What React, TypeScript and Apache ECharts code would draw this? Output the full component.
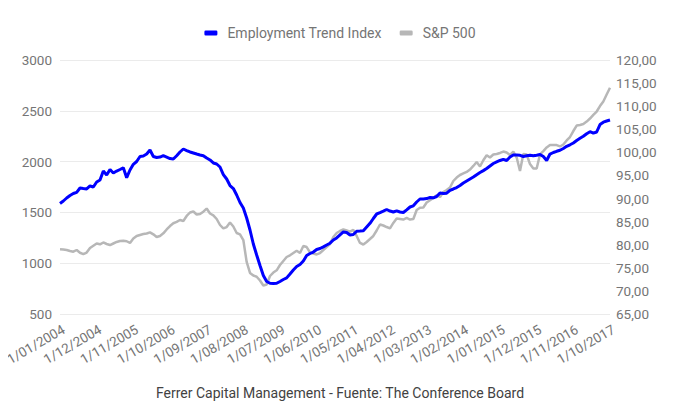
import React, { useEffect, useRef } from "react";
import * as echarts from "echarts";

const startYear = 2004;
const monthCount = 166;
const categories: string[] = [];
for (let i = 0; i < monthCount; i++) {
  const m = (i % 12) + 1;
  const y = startYear + Math.floor(i / 12);
  categories.push(`1/${m < 10 ? "0" + m : m}/${y}`);
}

const employmentTrendIndex = [
  88.93, 89.47, 90.12, 90.66, 91.09, 91.35, 92.28, 92.17, 92.07, 92.72,
  92.5, 93.58, 94.01, 95.96, 95.1, 96.29, 95.53, 95.96, 96.29, 96.68,
  94.51, 96.18, 97.41, 98.02, 99.1, 99.21, 99.64, 100.51, 99.1, 98.89,
  98.99, 99.28, 98.99, 98.67, 98.56, 99.28, 100.08, 100.73, 100.4, 100.08,
  99.86, 99.64, 99.43, 99.28, 98.78, 98.35, 97.7, 97.48, 96.83, 95.2,
  94.23, 92.82, 92.17, 90.77, 89.14, 87.95, 85.79, 83.19, 80.16, 77.77,
  75.5, 73.34, 72.04, 71.65, 71.6, 71.65, 72.04, 72.47, 72.82, 73.66,
  74.53, 75.28, 75.72, 76.48, 77.67, 78.1, 78.42, 78.97, 79.18, 79.55,
  79.94, 80.33, 81.02, 81.46, 82.11, 82.76, 82.65, 82.11, 82.21, 82.93,
  82.97, 83.04, 83.84, 84.64, 85.68, 86.65, 86.93, 87.26, 87.63, 87.3,
  87.08, 87.34, 87.08, 86.98, 87.56, 88.17, 88.43, 89.25, 89.9, 89.9,
  89.99, 90.22, 90.16, 90.44, 91.2, 91.09, 91.16, 91.78, 92.07, 92.39,
  92.82, 93.36, 93.8, 94.23, 94.66, 95.16, 95.64, 96.05, 96.5, 97.05,
  97.59, 97.93, 98.24, 98.5, 98.24, 98.99, 99.43, 99.43, 99.36, 99.1,
  99.25, 99.38, 99.25, 99.38, 99.54, 99.1, 98.24, 99.64, 99.97, 100.23,
  100.45, 100.83, 101.31, 101.64, 102.03, 102.57, 103.04, 103.48, 104.04, 104.47,
  104.15, 104.41, 106.03, 106.53, 106.79, 107.01,
];

const sp500 = [
  1137, 1135, 1130, 1120, 1113, 1130, 1103, 1090, 1105, 1150,
  1172, 1194, 1186, 1204, 1189, 1179, 1194, 1209, 1218, 1220,
  1216, 1199, 1243, 1268, 1278, 1287, 1292, 1304, 1284, 1258,
  1268, 1294, 1332, 1366, 1393, 1406, 1425, 1415, 1465, 1499,
  1509, 1479, 1484, 1507, 1538, 1489, 1471, 1435, 1376, 1342,
  1356, 1401, 1361, 1297, 1284, 1228, 1012, 904, 879, 867,
  830, 780, 790, 874, 908, 930, 982, 1022, 1061, 1078,
  1100, 1122, 1100, 1169, 1159, 1107, 1095, 1086, 1100, 1130,
  1159, 1189, 1258, 1297, 1317, 1332, 1322, 1310, 1327, 1268,
  1199, 1184, 1209, 1238, 1268, 1322, 1381, 1371, 1356, 1343,
  1396, 1440, 1435, 1430, 1445, 1430, 1435, 1524, 1546, 1548,
  1597, 1620, 1642, 1668, 1652, 1701, 1720, 1745, 1809, 1843,
  1868, 1883, 1898, 1922, 1957, 1996, 1952, 2013, 2063, 2040,
  2070, 2075, 2085, 2099, 2090, 2065, 2099, 2040, 1907, 2075,
  2070, 1976, 1932, 1932, 2070, 2104, 2139, 2163, 2163, 2163,
  2149, 2168, 2208, 2242, 2301, 2355, 2360, 2370, 2394, 2424,
  2459, 2493, 2547, 2592, 2660, 2727,
];

const leftTicks = { min: 500, max: 3000, interval: 500 };
const rightTicks = { min: 65, max: 120, interval: 5 };
const caption = "Ferrer Capital Management - Fuente: The Conference Board";

export default function App() {
  const ref = useRef<HTMLDivElement>(null);
  useEffect(() => {
    if (!ref.current) return;
    const chart = echarts.init(ref.current, undefined, { renderer: "svg" });
    const font = "Roboto";
    chart.setOption({
      animation: false,
      backgroundColor: "#ffffff",
      textStyle: { fontFamily: font },
      title: {
        text: caption,
        left: "center",
        top: 381,
        textStyle: { fontFamily: font, fontSize: 14, fontWeight: "normal", color: "#424242" },
      },
      legend: {
        top: 21,
        left: "center",
        itemWidth: 13,
        itemHeight: 5,
        itemGap: 18,
        data: [
          { name: "Employment Trend Index", icon: "roundRect" },
          { name: "S&P 500", icon: "roundRect" },
        ],
        textStyle: { fontFamily: font, fontSize: 14, color: "#757575", padding: [0, 0, 0, 5] },
      },
      grid: { left: 60, right: 70, top: 60, bottom: 106, containLabel: false },
      xAxis: {
        type: "category",
        data: categories,
        boundaryGap: false,
        axisLine: { show: false },
        axisTick: { show: false },
        axisLabel: {
          interval: 10,
          rotate: 30,
          align: "right",
          verticalAlign: "top",
          fontFamily: font,
          fontSize: 13.5,
          color: "#757575",
          margin: 8,
        },
        splitLine: { show: false },
      },
      yAxis: [
        {
          type: "value",
          position: "left",
          min: leftTicks.min,
          max: leftTicks.max,
          interval: leftTicks.interval,
          axisLine: { show: false },
          axisTick: { show: false },
          axisLabel: {
            fontFamily: font,
            fontSize: 13.5,
            color: "#757575",
            margin: 8,
            formatter: (v: number) => String(v),
          },
          splitLine: { lineStyle: { color: "#ebebeb", width: 1 } },
        },
        {
          type: "value",
          position: "right",
          min: rightTicks.min,
          max: rightTicks.max,
          interval: rightTicks.interval,
          axisLine: { show: false },
          axisTick: { show: false },
          axisLabel: {
            fontFamily: font,
            fontSize: 13.5,
            color: "#757575",
            margin: 6,
            formatter: (v: number) => v.toFixed(2).replace(".", ","),
          },
          splitLine: { show: false },
        },
      ],
      series: [
        {
          name: "S&P 500",
          type: "line",
          yAxisIndex: 0,
          data: sp500,
          showSymbol: false,
          symbol: "none",
          lineStyle: { color: "#b7b7b7", width: 2.5 },
          itemStyle: { color: "#b7b7b7" },
          z: 2,
        },
        {
          name: "Employment Trend Index",
          type: "line",
          yAxisIndex: 1,
          data: employmentTrendIndex,
          showSymbol: false,
          symbol: "none",
          lineStyle: { color: "#0000ff", width: 3 },
          itemStyle: { color: "#0000ff" },
          z: 3,
        },
      ],
    });
    return () => chart.dispose();
  }, []);
  return <div ref={ref} style={{ width: 680, height: 420, margin: -8 }} />;
}
